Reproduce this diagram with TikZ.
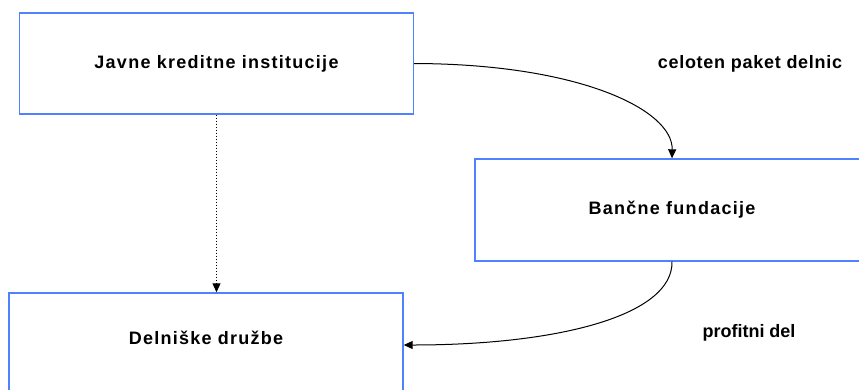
\documentclass[tikz,border=0pt]{standalone}
\usepackage{fontspec}
\setmainfont{Liberation Sans}
\usetikzlibrary{arrows.meta}
\definecolor{boxblue}{RGB}{80,130,255}
\newfontfamily\lblfont[LetterSpace=7]{Liberation Sans Bold}
\newfontfamily\tightfont[LetterSpace=4]{Liberation Sans Bold}
\newfontfamily\narrowfont{Liberation Sans Bold}
\begin{document}
\begin{tikzpicture}[x=1pt,y=-1pt,
  box/.style={draw=boxblue,line width=1.4pt,rectangle,minimum width=394pt,inner sep=0pt,font=\lblfont\fontsize{18}{21}\selectfont},
  txt/.style={inner sep=0pt,font=\tightfont\fontsize{18}{21}\selectfont},
  ntxt/.style={inner sep=0pt,font=\narrowfont\fontsize{18}{21}\selectfont},
  conn/.style={draw=black,line width=1pt,-{Triangle[length=9pt,width=8pt]}}]
\clip (0,0) rectangle (859,389);
\fill[white] (0,0) rectangle (859,389);
\node[box,minimum height=101pt] (j) at (216.5,63.5) {Javne kreditne institucije};
\node[box,minimum height=102pt] (b) at (672,210) {Bančne fundacije};
\node[box,minimum height=104pt] (d) at (206,345) {\raisebox{7pt}[\height][\depth]{Delniške družbe}};
\node[txt] (c) at (750,64) {celoten paket delnic};
\node[ntxt] (p) at (749,333) {profitni del};
\draw[conn,dotted] (j.south) -- (j.south |- d.north);
\draw[conn] (j.east) .. controls (580,64) and (673,110) .. (b.north);
\draw[conn] (b.south) .. controls (673,315) and (560,345) .. (d.east);
\end{tikzpicture}
\end{document}
